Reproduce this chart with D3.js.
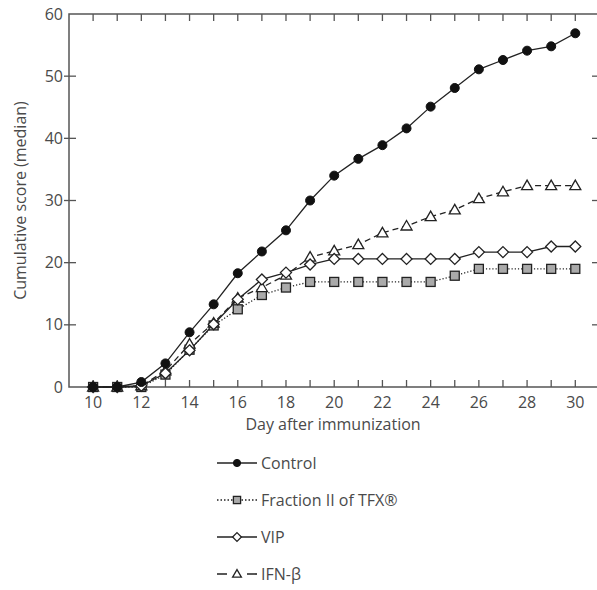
<!DOCTYPE html>
<html><head><meta charset="utf-8">
<script src="https://cdn.jsdelivr.net/npm/d3@7"></script>
<style>body{margin:0;background:#fff;} text{font-family:"Open Sans",sans-serif;}</style>
</head><body><svg id="c" width="597" height="590"></svg>
<script>
const days = [10,11,12,13,14,15,16,17,18,19,20,21,22,23,24,25,26,27,28,29,30];
const control  = [0,0,0.8,3.8,8.8,13.3,18.3,21.8,25.2,30.0,34.0,36.7,38.9,41.6,45.1,48.1,51.1,52.6,54.1,54.8,56.9];
const fraction = [0,0,0,2.0,6.0,9.9,12.5,14.8,16.0,16.9,16.9,16.9,16.9,16.9,16.9,17.9,19.0,19.0,19.0,19.0,19.0];
const vip      = [0,0,0.2,2.2,5.9,10.1,14.1,17.3,18.4,19.7,20.6,20.6,20.6,20.6,20.6,20.6,21.7,21.7,21.7,22.6,22.6];
const ifn      = [0,0,0.2,2.6,6.9,10.3,14.3,16.0,18.0,20.9,21.9,22.9,24.8,25.9,27.4,28.5,30.3,31.4,32.4,32.4,32.4];
const xTicks = [10,12,14,16,18,20,22,24,26,28,30];
const yTicks = [0,10,20,30,40,50,60];
const seriesNames = ["Control","Fraction II of TFX\u00AE","VIP","IFN-\u03B2"];

const svg = d3.select("#c");
const L=69, R=597, T=14, B=387;
const x = d3.scaleLinear().domain([9,30.9]).range([L,R]);
const y = d3.scaleLinear().domain([0,60]).range([B,T]);
const txt = "#4a4a4a", ax = "#555";
const FS = 16;

svg.append("rect").attr("x",L).attr("y",T).attr("width",R-L+5).attr("height",B-T)
  .attr("fill","none").attr("stroke",ax).attr("stroke-width",1.5);

days.forEach(d=>{
  svg.append("line").attr("x1",x(d)).attr("x2",x(d)).attr("y1",B).attr("y2",B-7).attr("stroke",ax).attr("stroke-width",1.3);
  svg.append("line").attr("x1",x(d)).attr("x2",x(d)).attr("y1",T).attr("y2",T+7).attr("stroke",ax).attr("stroke-width",1.3);
});
xTicks.forEach(d=>{
  svg.append("text").attr("x",x(d)).attr("y",B+21).attr("text-anchor","middle")
    .attr("font-size",FS).attr("fill",txt).text(d);
});
yTicks.forEach(v=>{
  if(v>0 && v<60){
    svg.append("line").attr("x1",L-5).attr("x2",L+7).attr("y1",y(v)).attr("y2",y(v)).attr("stroke",ax).attr("stroke-width",1.3);
    svg.append("line").attr("x1",R-5).attr("x2",R).attr("y1",y(v)).attr("y2",y(v)).attr("stroke",ax).attr("stroke-width",1.3);
  }
  svg.append("text").attr("x",L-6).attr("y",y(v)+5.5).attr("text-anchor","end")
    .attr("font-size",FS).attr("fill",txt).text(v);
});

svg.append("text").attr("transform",`translate(26,${(T+B)/2}) rotate(-90)`).attr("text-anchor","middle")
  .attr("font-size",FS).attr("fill",txt).text("Cumulative score (median)");
svg.append("text").attr("x",(L+R)/2).attr("y",430).attr("text-anchor","middle")
  .attr("font-size",FS).attr("fill",txt).text("Day after immunization");

const series = [
  {name:seriesNames[0], vals:control, dash:null, ldash:null, marker:"circle"},
  {name:seriesNames[1], vals:fraction, dash:"1.2,2", ldash:"1.5,2", marker:"square"},
  {name:seriesNames[2], vals:vip, dash:null, ldash:null, marker:"diamond"},
  {name:seriesNames[3], vals:ifn, dash:"6,4", ldash:"10,20", marker:"triangle"}
];

function marker(g, type, cx, cy, s){
  if(type==="circle"){
    g.append("circle").attr("cx",cx).attr("cy",cy).attr("r",4.5*s).attr("fill","#111").attr("stroke","#111");
  } else if(type==="square"){
    const h=4.5*s;
    g.append("rect").attr("x",cx-h).attr("y",cy-h).attr("width",2*h).attr("height",2*h)
      .attr("fill","#aaa").attr("stroke","#222").attr("stroke-width",1.3);
  } else if(type==="diamond"){
    const h=5.5*s;
    g.append("path").attr("d",`M${cx},${cy-h}L${cx+h},${cy}L${cx},${cy+h}L${cx-h},${cy}Z`)
      .attr("fill","#fff").attr("stroke","#222").attr("stroke-width",1.3);
  } else {
    const h=5.5*s;
    g.append("path").attr("d",`M${cx},${cy-h}L${cx+h},${cy+h*0.73}L${cx-h},${cy+h*0.73}Z`)
      .attr("fill","#fff").attr("stroke","#222").attr("stroke-width",1.3);
  }
}

const line = d3.line().x((d,i)=>x(days[i])).y(d=>y(d));
[1,3,2,0].forEach(k=>{
  const s = series[k];
  svg.append("path").attr("d",line(s.vals)).attr("fill","none").attr("stroke","#222")
    .attr("stroke-width",1.3).attr("stroke-dasharray",s.dash);
});
[1,3,2,0].forEach(k=>{
  const s = series[k];
  const g = svg.append("g");
  s.vals.forEach((v,i)=>marker(g,s.marker,x(days[i]),y(v),1));
});

const ly = [463,500,537,574];
series.forEach((s,i)=>{
  const g = svg.append("g");
  g.append("line").attr("x1",217).attr("x2",257).attr("y1",ly[i]).attr("y2",ly[i])
    .attr("stroke","#222").attr("stroke-width",1.6).attr("stroke-dasharray",s.ldash);
  marker(g,s.marker,237,ly[i],0.8);
  g.append("text").attr("x",261).attr("y",ly[i]+6).attr("font-size",FS).attr("fill",txt).text(s.name);
});
</script></body></html>
